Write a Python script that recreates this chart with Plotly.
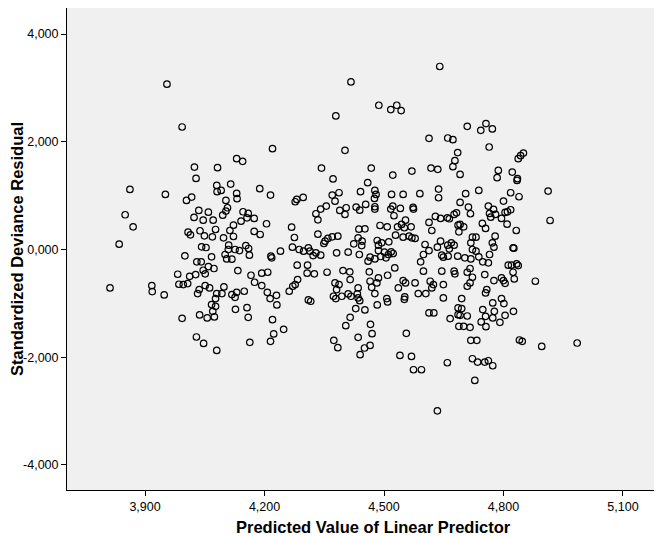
import plotly.graph_objects as go

# Predicted value of linear predictor (x) and standardized deviance residual (y)
pred_value = [
    3.993, 4.024, 4.082, 4.028, 3.955, 4.379, 4.220, 4.130, 4.145, 4.343, 4.372, 4.640, 4.417, 4.487, 4.532,
    4.517, 4.543, 4.613, 4.660, 4.673, 4.402, 4.685, 4.468, 4.522, 4.570, 4.618, 4.635, 4.673, 4.678, 4.691,
    4.709, 4.756, 4.743, 4.772, 4.764, 4.850, 4.843, 4.837, 4.787, 4.822, 4.784, 4.835,
    3.862, 3.951, 4.017, 4.004, 4.080, 4.081, 3.850, 3.870, 3.835, 4.035, 4.059, 4.023, 4.046, 4.071,
    4.008, 4.014, 4.038, 4.049, 4.069, 4.077, 4.042, 4.053, 4.000, 4.067, 4.030, 4.041, 4.059, 4.073,
    4.046, 4.051, 4.027, 3.982, 4.012, 3.985, 3.996, 4.007, 4.051, 4.062, 4.036, 4.032, 3.812, 3.917,
    3.918, 3.948, 4.080,
    4.077, 4.067, 4.077, 4.070, 4.037, 4.056, 4.074, 3.993, 4.029, 4.047, 4.080,
    4.091, 4.115, 4.130, 4.131, 4.188, 4.215, 4.277, 4.281, 4.297, 4.370, 4.103, 4.107, 4.103, 4.095,
    4.146, 4.159, 4.156, 4.141, 4.174, 4.122, 4.113, 4.122, 4.097, 4.174, 4.189, 4.205, 4.268, 4.275,
    4.334, 4.329, 4.341, 4.355, 4.334, 4.370, 4.352, 4.349, 4.359, 4.381, 4.110, 4.109, 4.126, 4.137,
    4.153, 4.160, 4.162, 4.101, 4.105, 4.118, 4.216, 4.218, 4.240, 4.270, 4.287, 4.298, 4.310, 4.314,
    4.322, 4.329, 4.341, 4.282, 4.308, 4.307, 4.325, 4.357, 4.283, 4.133, 4.166, 4.175, 4.193, 4.208,
    4.193, 4.207, 4.230, 4.262, 4.271, 4.277, 4.098, 4.093, 4.130, 4.149, 4.118, 4.377, 4.373,
    4.126, 4.127, 4.156, 4.159, 4.214, 4.231, 4.220, 4.248, 4.223, 4.215, 4.163, 4.310, 4.316, 4.379,
    4.374, 4.384,
    4.459, 4.387, 4.377, 4.441, 4.477, 4.480, 4.476, 4.477, 4.477, 4.519, 4.548, 4.590, 4.637, 4.637,
    4.389, 4.405, 4.402, 4.430, 4.439, 4.454, 4.517, 4.522, 4.541, 4.525, 4.573, 4.574, 4.554, 4.629,
    4.642, 4.659, 4.664, 4.676, 4.686, 4.613, 4.620, 4.490, 4.508, 4.534, 4.544, 4.551, 4.568, 4.384,
    4.437, 4.452, 4.435, 4.445, 4.424, 4.444, 4.529, 4.548, 4.563, 4.570, 4.578, 4.483, 4.494, 4.512,
    4.486, 4.486, 4.501, 4.511, 4.518, 4.523, 4.505, 4.492, 4.477, 4.465, 4.460, 4.438, 4.410, 4.603,
    4.613, 4.599, 4.592, 4.634, 4.642, 4.660, 4.669, 4.676, 4.664, 4.645, 4.649, 4.661, 4.685, 4.682,
    4.397, 4.414, 4.415, 4.463, 4.465, 4.486, 4.482, 4.469, 4.509, 4.527, 4.477, 4.536, 4.548, 4.554,
    4.578, 4.552, 4.586, 4.605, 4.599, 4.616, 4.624, 4.620, 4.649, 4.645, 4.676, 4.678, 4.387, 4.381,
    4.394, 4.410, 4.417, 4.435, 4.433, 4.507, 4.649,
    4.435, 4.439, 4.429, 4.452, 4.415, 4.404, 4.483, 4.509, 4.551, 4.613, 4.625, 4.666, 4.686, 4.686,
    4.688, 4.466, 4.470, 4.435, 4.465, 4.451, 4.440, 4.556, 4.540, 4.569, 4.574, 4.594, 4.659, 4.634,
    4.834, 4.738, 4.705, 4.818, 4.839, 4.912, 4.800, 4.691, 4.712, 4.717, 4.762, 4.775, 4.765, 4.768,
    4.780, 4.804, 4.810, 4.818, 4.795, 4.809, 4.917, 4.747, 4.755, 4.691, 4.700, 4.688, 4.779, 4.832,
    4.722, 4.731, 4.718, 4.772, 4.776, 4.722, 4.731, 4.824, 4.826, 4.765, 4.738, 4.718, 4.703, 4.748,
    4.762, 4.812, 4.820, 4.833, 4.837, 4.824, 4.827, 4.716, 4.709, 4.722, 4.716, 4.709, 4.753, 4.776,
    4.795, 4.800, 4.804, 4.880, 4.758, 4.755, 4.795, 4.695,
    4.695, 4.691, 4.709, 4.700, 4.716, 4.748, 4.773, 4.801, 4.777, 4.755, 4.773, 4.804, 4.825, 4.744,
    4.756, 4.791, 4.718, 4.733, 4.840, 4.847, 4.896, 4.985, 4.722, 4.735, 4.753, 4.762, 4.773, 4.728,
]

std_dev_resid = [
    2.275, 1.531, 1.520, 1.320, 3.069, 2.480, 1.873, 1.687, 1.637, 1.512, 1.310, 3.398, 3.111, 2.678, 2.678,
    2.598, 2.580, 2.065, 2.070, 2.040, 1.841, 1.799, 1.512, 1.382, 1.457, 1.512, 1.488, 1.538, 1.650, 1.395,
    2.288, 2.338, 2.213, 2.238, 1.903, 1.791, 1.743, 1.687, 1.469, 1.438, 1.334, 1.315,
    1.116, 1.023, 0.973, 0.911, 1.190, 1.073, 0.645, 0.422, 0.099, 0.725, 0.694, 0.595, 0.545, 0.545,
    0.322, 0.273, 0.348, 0.255, 0.236, 0.372, 0.050, 0.037, -0.117, -0.136, -0.229, -0.229, -0.316, -0.353,
    -0.385, -0.452, -0.465, -0.459, -0.497, -0.645, -0.651, -0.632, -0.670, -0.713, -0.744, -0.819, -0.713, -0.670,
    -0.781, -0.843, -0.819,
    -0.911, -1.023, -1.054, -1.147, -1.215, -1.271, -1.252, -1.277, -1.624, -1.743, -1.873,
    1.097, 1.215, 1.042, 0.943, 1.129, 1.010, 0.887, 0.930, 0.967, 1.010, 0.911, 0.775, 0.713, 0.638,
    0.701, 0.670, 0.589, 0.527, 0.577, 0.452, 0.353, 0.242, 0.217, 0.335, 0.279, 0.478, 0.415, 0.223,
    0.285, 0.664, 0.750, 0.806, 0.552, 0.236, 0.155, 0.112, 0.205, -0.062, 0.081, 0.000, 0.000, -0.019,
    0.074, 0.019, -0.105, -0.093, -0.174, -0.180, -0.124, -0.155, -0.031, 0.043, 0.000, -0.031, 0.031, -0.031,
    -0.112, -0.062, -0.105, -0.291, -0.291, -0.440, -0.452, -0.422, -0.558, -0.391, -0.478, -0.608, -0.440, -0.422,
    -0.670, -0.794, -0.850, -0.775, -0.682, -0.651, -0.694, -0.819, -0.794, -0.775, -0.837, -0.620, -0.868,
    -0.887, -1.110, -1.079, -1.259, -0.911, -1.029, -1.302, -1.482, -1.568, -1.705, -1.724, -0.936, -0.961, -0.911,
    -1.687, -1.823,
    1.240, 1.054, 0.898, 1.073, 1.097, 1.023, 0.949, 0.794, 0.750, 1.023, 1.023, 1.036, 1.122, 0.961,
    0.725, 0.775, 0.651, 0.787, 0.731, 0.837, 0.750, 0.806, 0.763, 0.627, 0.781, 0.750, 0.545, 0.614,
    0.577, 0.589, 0.571, 0.651, 0.452, 0.502, 0.353, 0.446, 0.422, 0.422, 0.465, 0.404, 0.422, 0.248,
    0.378, 0.385, 0.217, 0.155, 0.106, 0.074, 0.266, 0.229, 0.248, 0.217, 0.205, 0.167, 0.124, 0.143,
    0.081, -0.019, -0.050, -0.093, -0.043, -0.074, -0.155, -0.130, -0.174, -0.143, -0.217, -0.093, -0.050, 0.093,
    -0.019, -0.093, -0.229, 0.043, 0.155, 0.081, 0.124, 0.081, 0.012, -0.105, -0.143, -0.124, -0.124, 0.682,
    -0.391, -0.415, -0.558, -0.415, -0.589, -0.527, -0.620, -0.701, -0.478, -0.341, -0.819, -0.713, -0.577, -0.620,
    -0.620, -0.880, -0.819, -0.819, -0.403, -0.589, -0.651, -0.713, -0.651, -0.403, -0.403, -0.452, -0.651, -0.744,
    -0.868, -0.824, -0.868, -0.713, -0.824, -0.911, -0.899,
    -0.899, -0.949, -1.097, -1.122, -1.259, -1.414, -1.029, -0.973, -0.924, -1.178, -1.178, -1.283, -1.209, -1.085,
    -1.426, -1.389, -1.562, -1.631, -1.780, -1.829, -1.953, -1.557, -1.966, -1.985, -2.232, -2.232, -2.102, -2.995,
    1.283, 1.097, 1.036, 1.054, 0.980, 1.085, 0.899, 0.874, 0.787, 0.664, 0.806, 0.744, 0.670, 0.601,
    0.651, 0.688, 0.701, 0.738, 0.577, 0.471, 0.539, 0.484, 0.391, 0.465, 0.422, 0.329, 0.248, 0.353,
    0.229, 0.229, 0.124, 0.124, 0.043, 0.000, -0.031, 0.031, 0.025, -0.093, -0.136, -0.174, -0.155, -0.229,
    -0.248, -0.291, -0.291, -0.267, -0.298, -0.422, -0.546, -0.353, -0.422, -0.515, -0.620, -0.682, -0.465, -0.577,
    -0.527, -0.577, -0.627, -0.589, -0.744, -0.806, -0.911, -0.911,
    -1.097, -1.222, -1.234, -1.426, -1.445, -1.116, -0.991, -1.004, -1.147, -1.240, -1.271, -1.222, -1.147, -1.345,
    -1.432, -1.352, -1.687, -1.687, -1.680, -1.705, -1.799, -1.736, -2.028, -2.090, -2.090, -2.065, -2.158, -2.431,
]

x_tickvals = [3.9, 4.2, 4.5, 4.8, 5.1]
x_ticktext = ["3,900", "4,200", "4,500", "4,800", "5,100"]
y_tickvals = [-4, -2, 0, 2, 4]
y_ticktext = ["-4,000", "-2,000", "0,000", "2,000", "4,000"]
x_title = "Predicted Value of Linear Predictor"
y_title = "Standardized Deviance Residual"

fig = go.Figure()
fig.add_trace(go.Scatter(
    x=pred_value, y=std_dev_resid, mode="markers",
    marker=dict(symbol="circle", size=6.5, color="rgba(0,0,0,0)",
                line=dict(color="black", width=1.2)),
    hoverinfo="x+y", showlegend=False,
))

font_family = "Liberation Sans, Arial, sans-serif"
# The page body has an 8px margin, so the figure is sized to fit the 662x537 window.
fig.update_layout(
    width=654, height=529,
    margin=dict(l=59, r=0, t=0, b=47),
    paper_bgcolor="white",
    plot_bgcolor="#f0f0f0",
    font=dict(family=font_family, size=12, color="black"),
    xaxis=dict(
        range=[3.704, 5.198], tickvals=x_tickvals, ticktext=x_ticktext,
        tickfont=dict(size=12.5),
        ticks="outside", ticklen=5, tickcolor="black", tickwidth=1,
        showline=True, linecolor="black", linewidth=1,
        showgrid=False, zeroline=False,
        automargin=False,
    ),
    yaxis=dict(
        range=[-4.465, 4.484], tickvals=y_tickvals, ticktext=y_ticktext,
        tickfont=dict(size=12.5),
        ticks="outside", ticklen=5, tickcolor="black", tickwidth=1,
        showline=True, linecolor="black", linewidth=1,
        showgrid=False, zeroline=False,
        title=dict(text="<b>" + y_title + "</b>",
                   font=dict(size=16.5, family=font_family), standoff=0),
        automargin=False,
    ),
    annotations=[dict(
        text="<b>" + x_title + "</b>", xref="paper", yref="paper",
        x=0.515, y=-0.077, xanchor="center", yanchor="middle", showarrow=False,
        font=dict(size=16.5, family=font_family, color="black"),
    )],
)

fig.write_html("out.html")
